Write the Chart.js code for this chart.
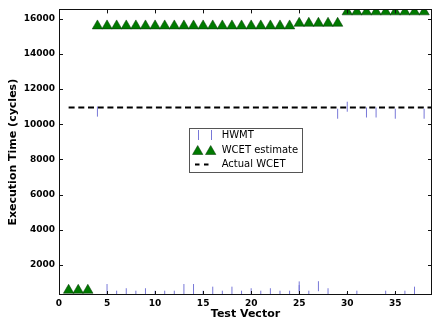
<!DOCTYPE html>
<html>
<head>
<meta charset="utf-8">
<script src="https://cdn.jsdelivr.net/npm/chart.js@4/dist/chart.umd.min.js"></script>
<style>
    html, body { margin: 0; padding: 0; background: #fff; }
    #wrap { width: 433px; height: 326px; }
</style>
</head>
<body>
<div id="wrap"><canvas id="chart" width="433" height="326"></canvas></div>
<script>
// values
const hwmtX = [4, 5, 6, 7, 8, 9, 10, 11, 12, 13, 14, 15, 16, 17, 18, 19, 20, 21, 22, 23, 24,
    25, 25, 26, 27, 28, 29, 30, 30, 31, 32, 33, 34, 35, 35, 36, 37, 38];
const hwmtY = [10720, 620, 240, 380, 240, 380, 240, 240, 240, 620, 620, 240, 470, 240, 470, 240, 380, 240, 380, 240, 240,
    770, 560, 240, 780, 380, 10600, 11000, 130, 240, 10670, 10670, 240, 10600, 130, 240, 470, 10600];

const wcetX = [1, 2, 3, 4, 5, 6, 7, 8, 9, 10, 11, 12, 13, 14, 15, 16, 17, 18, 19, 20,
    21, 22, 23, 24, 25, 26, 27, 28, 29, 30, 31, 32, 33, 34, 35, 36, 37, 38];
const wcetY = [550, 550, 550,
    15600, 15600, 15600, 15600, 15600, 15600, 15600, 15600, 15600, 15600, 15600,
    15600, 15600, 15600, 15600, 15600, 15600, 15600, 15600, 15600, 15600,
    15750, 15750, 15750, 15750, 15750,
    16400, 16400, 16400, 16400, 16400, 16400, 16400, 16400, 16400];

const actualX = [1, 40];
const actualY = [10950, 10950];

const xTickValues = [0, 5, 10, 15, 20, 25, 30, 35];
const yTickValues = [2000, 4000, 6000, 8000, 10000, 12000, 14000, 16000];

const seriesLabels = ['HWMT', 'WCET estimate', 'Actual WCET'];

const toPoints = (xs, ys) => xs.map((x, i) => ({x: x, y: ys[i]}));

const HWMT_COLOR = '#7878d8';
const WCET_COLOR = '#007a00';

function triangle(ctx, x, y, r) {
    ctx.beginPath();
    let rad = 0;
    ctx.moveTo(x + Math.sin(rad) * r, y - Math.cos(rad) * r);
    rad += Math.PI * 2 / 3;
    ctx.lineTo(x + Math.sin(rad) * r, y - Math.cos(rad) * r);
    rad += Math.PI * 2 / 3;
    ctx.lineTo(x + Math.sin(rad) * r, y - Math.cos(rad) * r);
    ctx.closePath();
    ctx.fillStyle = WCET_COLOR;
    ctx.fill();
    ctx.lineWidth = 0.5;
    ctx.strokeStyle = '#003300';
    ctx.stroke();
}

const frameAndLegend = {
    id: 'frameAndLegend',
    afterDatasetsDraw(chart) {
        const {ctx, chartArea: a, scales: {x, y}} = chart;
        ctx.save();
        ctx.strokeStyle = '#111';
        ctx.lineWidth = 1;
        ctx.strokeRect(Math.round(a.left) + 0.5, Math.round(a.top) + 0.5,
            Math.round(a.right - a.left) - 1, Math.round(a.bottom - a.top) - 1);

        // inward ticks on all four sides
        ctx.beginPath();
        x.ticks.forEach(t => {
            const px = Math.round(x.getPixelForValue(t.value)) + 0.5;
            ctx.moveTo(px, a.bottom);
            ctx.lineTo(px, a.bottom - 4);
            ctx.moveTo(px, a.top);
            ctx.lineTo(px, a.top + 4);
        });
        y.ticks.forEach(t => {
            const py = Math.round(y.getPixelForValue(t.value)) + 0.5;
            ctx.moveTo(a.left, py);
            ctx.lineTo(a.left + 4, py);
            ctx.moveTo(a.right, py);
            ctx.lineTo(a.right - 4, py);
        });
        ctx.stroke();

        // legend box
        const bx = 189.5, by = 128.5, bw = 113, bh = 44;
        ctx.fillStyle = '#fff';
        ctx.fillRect(bx, by, bw, bh);
        ctx.strokeStyle = '#555';
        ctx.strokeRect(bx, by, bw, bh);

        const rows = [135, 150, 164.5];
        const m1 = 197.7, m2 = 210.7;

        ctx.strokeStyle = HWMT_COLOR;
        ctx.lineWidth = 1;
        ctx.beginPath();
        [m1, m2].forEach(mx => {
            ctx.moveTo(Math.round(mx) + 0.5, rows[0] - 5);
            ctx.lineTo(Math.round(mx) + 0.5, rows[0] + 5);
        });
        ctx.stroke();

        [m1, m2].forEach(mx => triangle(ctx, mx, rows[1] + 1.5, 6));

        ctx.strokeStyle = '#000';
        ctx.lineWidth = 2;
        ctx.setLineDash([4.5, 4.5]);
        ctx.beginPath();
        ctx.moveTo(195, rows[2]);
        ctx.lineTo(209, rows[2]);
        ctx.stroke();
        ctx.setLineDash([]);

        ctx.fillStyle = '#000';
        ctx.font = '10px "DejaVu Sans"';
        ctx.textBaseline = 'middle';
        ctx.textAlign = 'left';
        seriesLabels.forEach((label, i) => ctx.fillText(label, 221.7, rows[i]));
        ctx.restore();
    }
};

const tickFont = {family: '"DejaVu Sans"', size: 9, weight: 'bold'};
const titleFont = {family: '"DejaVu Sans"', size: 11, weight: 'bold'};

new Chart(document.getElementById('chart'), {
    type: 'scatter',
    data: {
        datasets: [
            {
                label: seriesLabels[0],
                data: toPoints(hwmtX, hwmtY),
                pointStyle: 'line',
                rotation: 90,
                pointRadius: 5,
                pointBorderWidth: 1,
                borderColor: HWMT_COLOR,
                backgroundColor: HWMT_COLOR,
                showLine: false,
                clip: 0,
            },
            {
                label: seriesLabels[1],
                data: toPoints(wcetX, wcetY),
                pointStyle: 'triangle',
                pointRadius: 6,
                pointBorderWidth: 0.5,
                borderColor: '#003300',
                backgroundColor: WCET_COLOR,
                showLine: false,
                clip: 0,
            },
            {
                label: seriesLabels[2],
                type: 'line',
                data: toPoints(actualX, actualY),
                borderColor: '#000',
                borderWidth: 2,
                borderDash: [6, 3.7],
                pointRadius: 0,
                fill: false,
                clip: 0,
            },
        ]
    },
    options: {
        responsive: false,
        animation: false,
        devicePixelRatio: 1,
        layout: {autoPadding: false, padding: {top: 5, right: 1, left: 0, bottom: 0}},
        plugins: {
            legend: {display: false},
            tooltip: {enabled: false},
        },
        scales: {
            x: {
                type: 'linear',
                min: 0,
                max: 38.82,
                grid: {display: false, drawTicks: false},
                border: {display: false},
                afterBuildTicks(scale) { scale.ticks = xTickValues.map(v => ({value: v})); },
                ticks: {font: tickFont, color: '#000', padding: 3, maxRotation: 0, autoSkip: false,
                    callback: v => String(v)},
                title: {display: true, text: 'Test Vector', font: titleFont, color: '#000', padding: {top: 0, bottom: 5.4}},
                afterFit(scale) { scale.height = 31; },
            },
            y: {
                min: 280,
                max: 16540,
                grid: {display: false, drawTicks: false},
                border: {display: false},
                afterBuildTicks(scale) { scale.ticks = yTickValues.map(v => ({value: v})); },
                ticks: {font: tickFont, color: '#000', padding: 4, autoSkip: false,
                    callback: v => String(v)},
                title: {display: true, text: 'Execution Time (cycles)', font: titleFont, color: '#000', padding: {top: 6.4, bottom: 0}},
                afterFit(scale) { scale.width = 59; },
            },
        },
    },
    plugins: [frameAndLegend],
});
</script>
</body>
</html>
